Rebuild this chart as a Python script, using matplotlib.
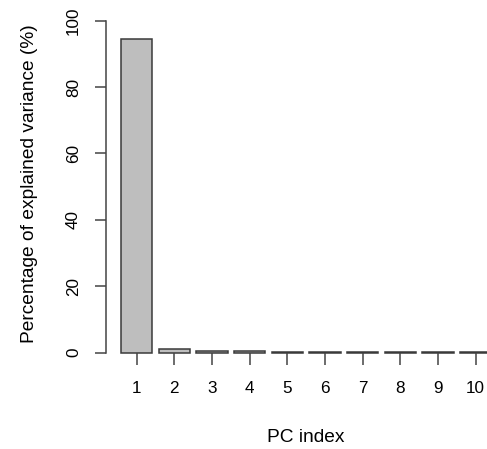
import matplotlib
matplotlib.use("Agg")
import matplotlib.pyplot as plt

pcs = [1, 2, 3, 4, 5, 6, 7, 8, 9, 10]
variance = [94.4, 1.2, 0.5, 0.45, 0.3, 0.2, 0.2, 0.15, 0.15, 0.12]
yticks = [0, 20, 40, 60, 80, 100]

plt.rcParams['font.family'] = ['Liberation Sans', 'DejaVu Sans']

W, H = 487, 449
fig = plt.figure(figsize=(W / 100, H / 100), dpi=100)
# R barplot geometry: width 1, space 0.2 -> centers at 0.7 + 1.2*(i-1)
centers = [0.7 + 1.2 * (p - 1) for p in pcs]
left_px, right_px = 106.0, 506.2
top_px, bot_px = 7.4, 366.0
ax = fig.add_axes([left_px / W, 1 - bot_px / H, (right_px - left_px) / W, (bot_px - top_px) / H])
ax.set_xlim(-0.272, 12.472)
ax.set_ylim(-4, 104)

ax.bar(centers, variance, width=1.0, color='#BEBEBE', edgecolor='#3a3a3a', linewidth=1.1)

for s in ['top', 'right']:
    ax.spines[s].set_visible(False)
ax.spines['bottom'].set_position(('data', 0))
ax.spines['bottom'].set_color('none')
ax.spines['left'].set_bounds(0, 100)
ax.spines['left'].set_color('#444444')
ax.spines['left'].set_linewidth(1.1)

ax.set_yticks(yticks)
ax.set_yticklabels([str(v) for v in yticks], rotation=90, va='center', fontsize=12.3)
ax.set_xticks(centers)
ax.set_xticklabels([str(p) for p in pcs], fontsize=12.3)
ax.tick_params(axis='y', length=8, width=1.1, color='#444444', pad=10)
ax.tick_params(axis='x', length=8.5, width=1.1, color='#444444', pad=12)

ax.set_ylabel('Percentage of explained variance (%)', fontsize=13.8)
ax.yaxis.set_label_coords((30 - left_px) / (right_px - left_px), (bot_px - 184) / (bot_px - top_px))
ax.yaxis.label.set_va('center')
ax.set_xlabel('PC index', fontsize=13.8)
ax.xaxis.set_label_coords((306 - left_px) / (right_px - left_px), (bot_px - 437) / (bot_px - top_px))
ax.xaxis.label.set_va('center')

fig.savefig('out.png', dpi=100)
